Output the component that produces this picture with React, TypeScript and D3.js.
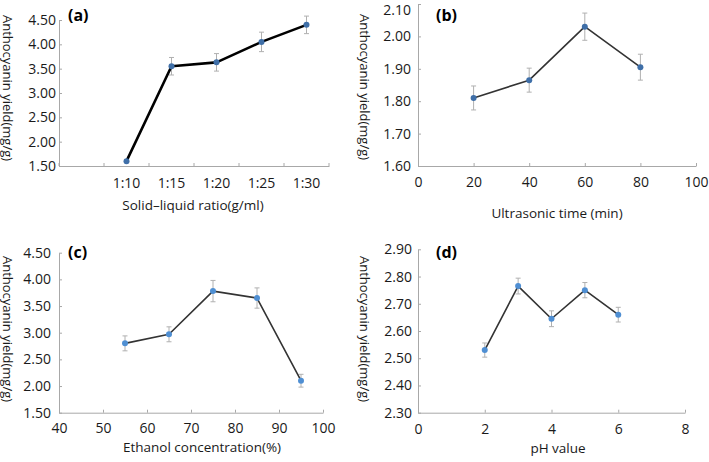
import React, { useEffect, useRef } from "react";
import * as d3 from "d3";

// Panel (a): solid-liquid ratio
const ratioLabels = ["1:10", "1:15", "1:20", "1:25", "1:30"];
const ratioYield = [1.6, 3.55, 3.63, 4.05, 4.4];
const ratioError = [0.03, 0.18, 0.18, 0.2, 0.18];
const ratioYTicks = [1.5, 2.0, 2.5, 3.0, 3.5, 4.0, 4.5];

// Panel (b): ultrasonic time
const timeX = [20, 40, 60, 80];
const timeYield = [1.81, 1.865, 2.03, 1.905];
const timeError = [0.037, 0.037, 0.042, 0.04];
const timeXTicks = [0, 20, 40, 60, 80, 100];
const timeYTicks = [1.6, 1.7, 1.8, 1.9, 2.0, 2.1];

// Panel (c): ethanol concentration
const ethanolX = [55, 65, 75, 85, 95];
const ethanolYield = [2.8, 2.97, 3.78, 3.65, 2.1];
const ethanolError = [0.14, 0.14, 0.2, 0.19, 0.12];
const ethanolXTicks = [40, 50, 60, 70, 80, 90, 100];
const ethanolYTicks = [1.5, 2.0, 2.5, 3.0, 3.5, 4.0, 4.5];

// Panel (d): pH
const phX = [2, 3, 4, 5, 6];
const phYield = [2.53, 2.765, 2.645, 2.75, 2.66];
const phError = [0.026, 0.029, 0.029, 0.028, 0.027];
const phXTicks = [0, 2, 4, 6, 8];
const phYTicks = [2.3, 2.4, 2.5, 2.6, 2.7, 2.8, 2.9];

const FONT = "'Open Sans', 'Liberation Sans', sans-serif";
const AXIS = "#a8a8a8";
const TEXT = "#1a1a1a";
const YLABEL = "Anthocyanin yield(mg/g)";
const TICK_FS = 14;

type PanelProps = {
  tag: string;
  xRange: [number, number];
  yRange: [number, number]; // [bottom, top]
  yDomain: [number, number];
  yTicks: number[];
  yPad: number;
  xDomain?: [number, number];
  xTicks?: number[];
  bands?: string[];
  xPad: number;
  xs: (number | string)[];
  ys: number[];
  errs: number[];
  lineColor: string;
  lineWidth: number;
  dotColor: string;
  xLabel: string;
  xLabelPos: [number, number];
  yLabelPos: [number, number];
  tagPos: [number, number];
};

function Panel(p: PanelProps) {
  const xAxisRef = useRef<SVGGElement>(null);
  const yAxisRef = useRef<SVGGElement>(null);

  const y = d3.scaleLinear().domain(p.yDomain).range(p.yRange);
  let xPos: (v: number | string) => number;
  let band: d3.ScaleBand<string> | null = null;
  let lin: d3.ScaleLinear<number, number> | null = null;
  if (p.bands) {
    band = d3.scaleBand<string>().domain(["", ...p.bands]).range(p.xRange).padding(0);
    const b = band;
    xPos = (v) => (b(v as string) as number) + b.bandwidth() / 2;
  } else {
    lin = d3.scaleLinear().domain(p.xDomain as [number, number]).range(p.xRange);
    const l = lin;
    xPos = (v) => l(v as number);
  }

  useEffect(() => {
    const yg = d3.select(yAxisRef.current!);
    yg.selectAll("*").remove();
    yg.call(
      d3
        .axisLeft(y)
        .tickValues(p.yTicks)
        .tickFormat(d3.format(".2f"))
        .tickSizeInner(-3)
        .tickSizeOuter(0)
        .tickPadding(p.yPad)
    );
    // keep the topmost label inside the picture
    yg.selectAll<SVGTextElement, number>(".tick text").attr("y", (d) => {
      const ty = y(d);
      return ty < 10.5 ? 10.5 - ty : 0;
    });
    const xg = d3.select(xAxisRef.current!);
    xg.selectAll("*").remove();
    if (band) {
      const b = band;
      xg.call(d3.axisBottom(b).tickSize(0).tickPadding(p.xPad));
      xg.selectAll(".tick line").remove();
      const bounds = [...b.domain().map((d) => b(d) as number), p.xRange[1]];
      xg.selectAll("line.bt")
        .data(bounds)
        .enter()
        .append("line")
        .attr("class", "bt")
        .attr("x1", (d) => d)
        .attr("x2", (d) => d)
        .attr("y1", 0)
        .attr("y2", -3)
        .attr("stroke", AXIS);
    } else if (lin) {
      xg.call(
        d3
          .axisBottom(lin)
          .tickValues(p.xTicks as number[])
          .tickFormat(d3.format("d"))
          .tickSizeInner(-3)
          .tickSizeOuter(0)
          .tickPadding(p.xPad)
      );
    }
    [yg, xg].forEach((g) => {
      g.select(".domain").attr("stroke", AXIS).attr("stroke-width", 1);
      g.selectAll(".tick line").attr("stroke", AXIS);
      g.selectAll("text")
        .attr("fill", TEXT)
        .style("font-family", FONT)
        .style("font-size", TICK_FS + "px");
    });
    xg.selectAll(".tick text").attr("dy", "0.71em");
  });

  const pts = p.xs.map((xv, i) => ({ x: xPos(xv), y: y(p.ys[i]), e: p.errs[i], v: p.ys[i] }));
  const line = d3
    .line<{ x: number; y: number }>()
    .x((d) => d.x)
    .y((d) => d.y);

  return (
    <g>
      <g ref={yAxisRef} transform={`translate(${p.xRange[0]},0)`} />
      <g ref={xAxisRef} transform={`translate(0,${p.yRange[0]})`} />
      {pts.map((d, i) => (
        <g key={"e" + i} stroke="#b0b0b0" strokeWidth={1}>
          <line x1={d.x} x2={d.x} y1={y(d.v + d.e)} y2={y(d.v - d.e)} />
          <line x1={d.x - 2.5} x2={d.x + 2.5} y1={y(d.v + d.e)} y2={y(d.v + d.e)} />
          <line x1={d.x - 2.5} x2={d.x + 2.5} y1={y(d.v - d.e)} y2={y(d.v - d.e)} />
        </g>
      ))}
      <path d={line(pts) as string} fill="none" stroke={p.lineColor} strokeWidth={p.lineWidth} strokeLinejoin="round" />
      {pts.map((d, i) => (
        <circle key={"c" + i} cx={d.x} cy={d.y} r={3} fill={p.dotColor} />
      ))}
      <text
        x={p.xLabelPos[0]}
        y={p.xLabelPos[1]}
        textAnchor="middle"
        fontFamily={FONT}
        fontSize={13.5}
        fill={TEXT}
      >
        {p.xLabel}
      </text>
      <text
        transform={`translate(${p.yLabelPos[0]},${p.yLabelPos[1]}) rotate(90)`}
        textAnchor="middle"
        dominantBaseline="central"
        fontFamily={FONT}
        fontSize={13}
        fill={TEXT}
      >
        {YLABEL}
      </text>
      <text x={p.tagPos[0]} y={p.tagPos[1]} fontFamily={FONT} fontSize={16} fontWeight="bold" fill="#000">
        {p.tag}
      </text>
    </g>
  );
}

export default function App() {
  return (
    <svg
      width={709}
      height={462}
      style={{ position: "absolute", left: 0, top: 0, background: "#fff" }}
    >
      <rect width={709} height={462} fill="#fff" />
      <Panel
        tag="(a)"
        xRange={[59, 329]}
        yRange={[166, 20]}
        yDomain={[1.5, 4.5]}
        yTicks={ratioYTicks}
        yPad={3}
        bands={ratioLabels}
        xPad={12}
        xs={ratioLabels}
        ys={ratioYield}
        errs={ratioError}
        lineColor="#000"
        lineWidth={2.6}
        dotColor="#3f6fa8"
        xLabel="Solid–liquid ratio(g/ml)"
        xLabelPos={[193, 210]}
        yLabelPos={[8, 88]}
        tagPos={[68, 21]}
      />
      <Panel
        tag="(b)"
        xRange={[418, 696]}
        yRange={[166, 4]}
        yDomain={[1.6, 2.1]}
        yTicks={timeYTicks}
        yPad={7}
        xDomain={[0, 100]}
        xTicks={timeXTicks}
        xPad={11}
        xs={timeX}
        ys={timeYield}
        errs={timeError}
        lineColor="#333"
        lineWidth={1.6}
        dotColor="#3f6fa8"
        xLabel="Ultrasonic time (min)"
        xLabelPos={[557, 218]}
        yLabelPos={[365, 87]}
        tagPos={[436, 21]}
      />
      <Panel
        tag="(c)"
        xRange={[59, 323]}
        yRange={[412.7, 252.7]}
        yDomain={[1.5, 4.5]}
        yTicks={ethanolYTicks}
        yPad={8}
        xDomain={[40, 100]}
        xTicks={ethanolXTicks}
        xPad={10}
        xs={ethanolX}
        ys={ethanolYield}
        errs={ethanolError}
        lineColor="#333"
        lineWidth={1.6}
        dotColor="#4f8fd3"
        xLabel="Ethanol concentration(%)"
        xLabelPos={[202, 452]}
        yLabelPos={[8, 329]}
        tagPos={[68, 258]}
      />
      <Panel
        tag="(d)"
        xRange={[418, 685]}
        yRange={[412.7, 249.3]}
        yDomain={[2.3, 2.9]}
        yTicks={phYTicks}
        yPad={6}
        xDomain={[0, 8]}
        xTicks={phXTicks}
        xPad={11.4}
        xs={phX}
        ys={phYield}
        errs={phError}
        lineColor="#333"
        lineWidth={1.6}
        dotColor="#4f8fd3"
        xLabel="pH value"
        xLabelPos={[558, 453]}
        yLabelPos={[365, 329]}
        tagPos={[436, 258]}
      />
    </svg>
  );
}
